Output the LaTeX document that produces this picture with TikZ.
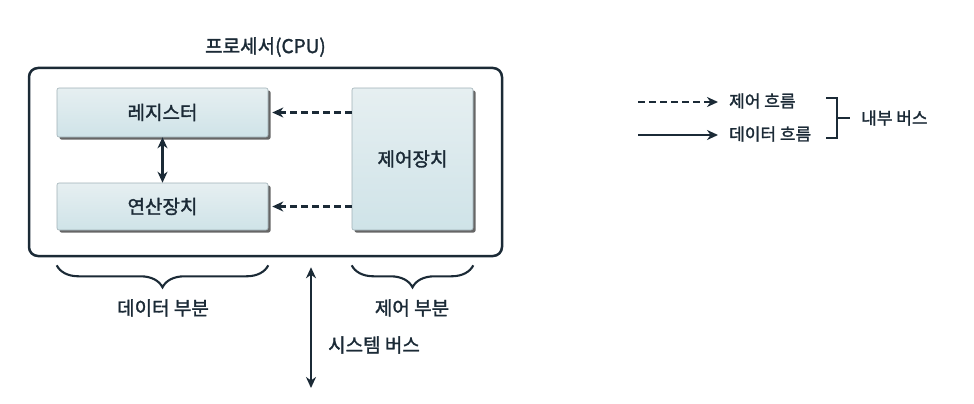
\documentclass[tikz,border=0pt]{standalone}
\usepackage{fontspec}
\setmainfont{Noto Sans CJK KR}[RawFeature={embolden=1.6}]
\usetikzlibrary{arrows.meta,decorations.pathreplacing,shadows}
\definecolor{ink}{HTML}{1B2A36}
\definecolor{boxtop}{HTML}{E6EFF1}
\definecolor{boxbot}{HTML}{CFE3E8}
\definecolor{boxedge}{HTML}{9FB0B6}
\begin{document}
\begin{tikzpicture}[x=1pt,y=-1pt,
  big/.style={font=\fontsize{19}{23}\selectfont, text=ink},
  mid/.style={font=\fontsize{17}{20}\selectfont, text=ink},
  unit/.style={big, draw=boxedge, line width=0.6pt, rounded corners=2pt, top color=boxtop, bottom color=boxbot,
     drop shadow={shadow xshift=2.5pt, shadow yshift=-2.5pt, fill=black!70, opacity=0.85}},
  cpubox/.style={draw=ink, line width=2.5pt, rounded corners=9pt, fill=white},
  tip/.style={-{Stealth[length=11pt,width=10pt,inset=3.5pt]}},
  ctrlflow/.style={draw=ink, line width=2.2pt, dash pattern=on 6.5pt off 4.5pt, tip},
  dataflow/.style={draw=ink, line width=1.9pt, tip},
  databoth/.style={draw=ink, line width=2.4pt, {Stealth[length=11pt,width=10pt,inset=3.5pt]}-{Stealth[length=11pt,width=10pt,inset=3.5pt]}},
  bracestyle/.style={draw=ink, line width=2.1pt, decorate, decoration={brace, mirror, amplitude=22pt}},
]
\useasboundingbox (0,0) rectangle (974,404);

% processor box
\node[cpubox, minimum width=473pt, minimum height=188pt] (cpu) at (265.5,162) {};
\node[big, anchor=south, inner sep=0pt] (title) at (265.5,57) {프로세서(CPU)};

% units
\node[unit, minimum width=211pt, minimum height=49pt] (reg) at (162.5,112.5) {레지스터};
\node[unit, minimum width=211pt, minimum height=47pt] (alu) at (162.5,206.5) {연산장치};
\node[unit, minimum width=121pt, minimum height=142pt] (ctrl) at (412.5,159) {제어장치};

% internal connections
\draw[ctrlflow, shorten >=4pt] (ctrl.west |- reg.east) -- (reg.east);
\draw[ctrlflow, shorten >=4pt] (ctrl.west |- alu.east) -- (alu.east);
\draw[databoth] (reg.south) -- (alu.north);

% braces
\draw[bracestyle] ([yshift=-35pt]alu.south west) -- ([yshift=-35pt]alu.south east);
\draw[bracestyle] ([yshift=-35pt]ctrl.south west) -- ([yshift=-35pt]ctrl.south east);
\node[big] (datapart) at (163,308) {데이터 부분};
\node[big] (ctrlpart) at (412,308) {제어 부분};

% system bus
\coordinate (busend) at (311,388);
\draw[databoth, shorten <=10pt] (cpu.south -| busend) -- (busend);
\node[big] (sysbus) at (374,345) {시스템 버스};

% legend
\coordinate (lc0) at (638,102);
\coordinate (lc1) at (718,102);
\coordinate (ld0) at (638,135);
\coordinate (ld1) at (718,135);
\draw[ctrlflow] (lc0) -- (lc1);
\draw[dataflow] (ld0) -- (ld1);
\node[mid, anchor=west, inner sep=0pt] (lctrl) at (729,101) {제어 흐름};
\node[mid, anchor=west, inner sep=0pt] (ldata) at (729,134) {데이터 흐름};
\coordinate (bt) at (837,98);
\coordinate (bb) at (837,138);
\coordinate (bm) at (837,118);
\draw[draw=ink, line width=2pt] ([xshift=-11pt]bt) -- (bt) -- (bb) -- ([xshift=-11pt]bb);
\node[mid, anchor=west, inner sep=0pt] (ibus) at (861,118) {내부 버스};
\draw[draw=ink, line width=2pt] (bm) -- (ibus.west -| 850,0);
\end{tikzpicture}
\end{document}
